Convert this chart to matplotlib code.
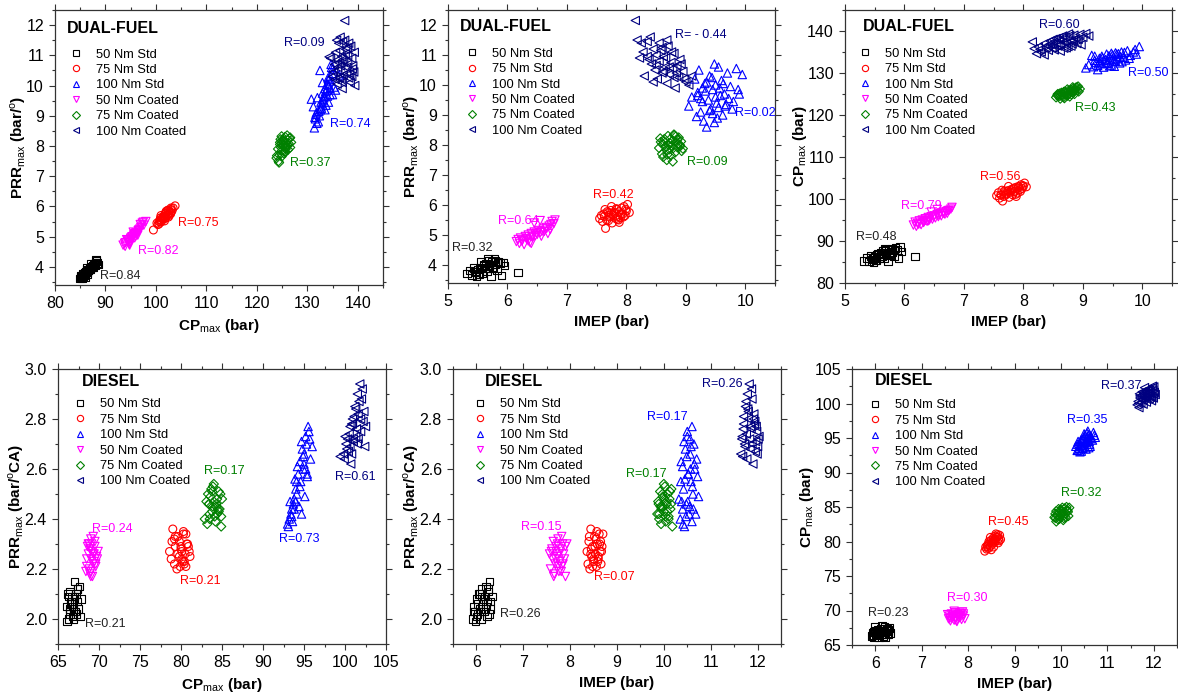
import matplotlib
matplotlib.use('Agg')
import matplotlib.pyplot as plt
from matplotlib.lines import Line2D
from matplotlib.ticker import MultipleLocator, FormatStrFormatter

plt.rcParams['font.family'] = ['Liberation Sans', 'DejaVu Sans']
plt.rcParams['mathtext.fontset'] = 'custom'
plt.rcParams['mathtext.rm'] = 'Liberation Sans'
plt.rcParams['mathtext.bf'] = 'Liberation Sans:bold'

labels = ['50 Nm Std', '75 Nm Std', '100 Nm Std', '50 Nm Coated', '75 Nm Coated', '100 Nm Coated']
colors = ['#000000', '#ff0000', '#0000ff', '#ff00ff', '#008000', '#000080']
markers = ['s', 'o', '^', 'v', 'D', '<']
msizes = [30, 32, 36, 36, 22, 36]

# ---------------- DUAL-FUEL data (IMEP bar, CPmax bar, PRRmax bar/deg) ----------------
df_50std_imep = [5.32, 5.40, 5.45, 5.48, 5.50, 5.52, 5.55, 5.58, 5.60, 5.62, 5.64, 5.66, 5.68, 5.70, 5.72,
                 5.74, 5.76, 5.78, 5.80, 5.82, 5.85, 5.88, 5.90, 5.93, 5.95, 5.44, 5.56, 5.67, 6.18, 5.36,
                 5.46, 5.53, 5.61, 5.69, 5.75, 5.83, 5.51, 5.79]
df_50std_cp = [85.2, 85.1, 85.6, 85.0, 86.2, 85.4, 86.8, 85.8, 87.2, 86.5, 87.6, 86.0, 88.0, 87.0, 85.3,
               87.8, 86.6, 88.2, 87.4, 86.3, 88.4, 87.9, 86.0, 88.5, 87.5, 86.4, 87.0, 88.1, 86.3, 86.0,
               85.9, 86.6, 86.3, 87.3, 86.9, 87.7, 85.5, 88.0]
df_50std_prr = [3.72, 3.66, 3.78, 3.62, 3.85, 3.70, 3.92, 3.74, 4.00, 3.88, 4.05, 3.80, 4.15, 3.95, 3.64,
                4.10, 3.90, 4.20, 4.02, 3.84, 4.12, 4.06, 3.65, 4.08, 3.98, 3.90, 4.10, 4.22, 3.75, 3.82,
                3.76, 3.88, 3.96, 4.00, 3.93, 4.08, 3.68, 4.14]

df_75std_imep = [7.55, 7.58, 7.60, 7.62, 7.65, 7.67, 7.70, 7.72, 7.74, 7.76, 7.78, 7.80, 7.82, 7.84, 7.86,
                 7.88, 7.90, 7.92, 7.94, 7.96, 7.98, 8.00, 8.02, 8.05, 7.70, 7.85, 7.64, 7.95, 7.75, 7.88,
                 7.63, 7.71, 7.79, 7.83, 7.91, 7.99, 7.68, 7.87]
df_75std_cp = [100.8, 101.5, 100.2, 101.0, 99.5, 100.6, 101.8, 101.2, 102.0, 100.4, 101.6, 102.3, 101.0, 102.6, 101.9,
               102.8, 101.4, 103.0, 102.2, 103.4, 102.5, 103.0, 103.8, 102.9, 100.9, 101.7, 102.1, 101.8, 103.0, 100.6,
               100.9, 101.4, 102.0, 102.4, 102.6, 103.2, 101.9, 101.1]
df_75std_prr = [5.55, 5.65, 5.45, 5.70, 5.22, 5.50, 5.75, 5.60, 5.82, 5.40, 5.68, 5.72, 5.55, 5.85, 5.62,
                5.78, 5.58, 5.90, 5.70, 5.95, 5.65, 5.80, 6.02, 5.75, 5.48, 5.52, 5.85, 5.60, 5.95, 5.42,
                5.62, 5.66, 5.76, 5.88, 5.70, 5.86, 5.78, 5.50]

df_100std_imep = [9.05, 9.10, 9.15, 9.18, 9.20, 9.22, 9.25, 9.28, 9.30, 9.32, 9.35, 9.38, 9.40, 9.42, 9.45, 9.48, 9.50,
                  9.52, 9.55, 9.58, 9.60, 9.62, 9.65, 9.68, 9.70, 9.72, 9.75, 9.80, 9.85, 9.90, 9.95, 9.35, 9.45, 9.55,
                  9.28, 9.33, 9.40, 9.44, 9.50, 9.53, 9.57, 9.63, 9.66, 9.48, 9.20, 9.78, 9.88, 9.25]
df_100std_cp = [131.2, 132.0, 134.2, 131.5, 133.0, 132.5, 131.8, 133.5, 132.2, 134.0, 131.4, 133.2, 134.5, 132.6, 133.8, 131.9, 134.3,
                132.9, 134.8, 133.4, 134.6, 132.4, 135.0, 133.7, 134.9, 133.1, 135.3, 134.2, 135.0, 134.5, 136.3, 133.0, 131.7, 132.8,
                132.7, 133.6, 132.3, 134.1, 133.3, 131.6, 134.5, 133.9, 132.7, 134.7, 134.0, 133.5, 135.6, 130.8]
df_100std_prr = [9.30, 9.60, 10.20, 8.95, 9.75, 10.50, 9.10, 9.90, 8.80, 10.05, 8.60, 9.50, 10.30, 9.20, 9.85, 8.75, 10.00,
                 9.40, 10.60, 9.65, 10.15, 9.00, 9.70, 9.35, 10.40, 9.55, 9.95, 9.45, 10.55, 9.70, 10.35, 10.10, 9.05, 9.25,
                 9.45, 9.80, 9.15, 10.25, 9.60, 8.90, 9.90, 10.05, 9.30, 10.70, 9.65, 9.20, 9.85, 9.55]

df_50coat_imep = [6.15, 6.18, 6.20, 6.22, 6.25, 6.28, 6.30, 6.32, 6.35, 6.38, 6.40, 6.42, 6.45, 6.47, 6.50,
                  6.52, 6.55, 6.57, 6.60, 6.62, 6.65, 6.68, 6.70, 6.72, 6.75, 6.78, 6.80, 6.45, 6.55, 6.35,
                  6.24, 6.33, 6.41, 6.49, 6.58, 6.66, 6.40, 6.73]
df_50coat_cp = [93.8, 94.5, 93.5, 94.2, 94.8, 93.9, 95.0, 94.4, 95.3, 94.7, 95.6, 95.0, 95.8, 95.2, 96.0,
                95.5, 96.3, 95.8, 96.5, 96.0, 96.8, 96.4, 97.0, 96.6, 97.3, 97.6, 98.0, 96.9, 97.5, 94.9,
                94.0, 94.6, 95.4, 95.7, 96.2, 96.6, 94.8, 97.2]
df_50coat_prr = [4.78, 4.85, 4.72, 4.90, 4.82, 4.68, 4.95, 4.88, 5.00, 4.75, 5.05, 4.92, 5.10, 4.98, 5.02,
                 5.15, 5.08, 4.96, 5.20, 5.12, 5.25, 5.05, 5.30, 5.18, 5.45, 5.38, 5.50, 5.40, 5.48, 4.80,
                 4.80, 4.85, 4.95, 5.06, 5.12, 5.22, 4.72, 5.35]

df_75coat_imep = [8.55, 8.58, 8.60, 8.62, 8.64, 8.66, 8.68, 8.70, 8.72, 8.74, 8.76, 8.78, 8.80, 8.82,
                  8.84, 8.86, 8.88, 8.90, 8.92, 8.95, 8.68, 8.75, 8.83, 8.61, 8.78, 8.86, 8.57, 8.93,
                  8.63, 8.71, 8.79, 8.87, 8.74, 8.69, 8.81, 8.90]
df_75coat_cp = [124.2, 125.0, 124.5, 123.9, 125.3, 124.8, 124.3, 125.6, 125.0, 124.6, 125.8, 125.2, 126.0, 125.4,
                126.3, 125.7, 126.5, 125.9, 126.8, 126.2, 125.5, 124.9, 126.6, 125.1, 124.4, 125.0, 124.7, 125.6,
                124.6, 125.3, 125.7, 126.0, 126.1, 124.0, 124.9, 126.6]
df_75coat_prr = [7.90, 8.10, 7.70, 7.60, 8.20, 7.95, 7.50, 8.30, 7.85, 8.05, 7.98, 8.15, 8.35, 7.75,
                 8.08, 7.92, 8.25, 8.00, 8.12, 7.88, 7.82, 7.65, 8.28, 8.02, 7.45, 8.18, 8.22, 7.80,
                 8.12, 8.00, 7.90, 8.05, 8.20, 7.68, 8.32, 7.95]

df_100coat_imep = [8.15, 8.18, 8.22, 8.25, 8.30, 8.35, 8.40, 8.42, 8.45, 8.48, 8.50, 8.52, 8.55, 8.58, 8.60, 8.62, 8.65,
                   8.68, 8.70, 8.72, 8.75, 8.78, 8.80, 8.82, 8.85, 8.88, 8.90, 8.95, 9.00, 9.05, 9.10, 8.60, 8.45,
                   8.28, 8.38, 8.50, 8.55, 8.62, 8.66, 8.72, 8.76, 8.80, 8.84, 8.92, 8.97, 8.35, 8.68]
df_100coat_cp = [137.4, 135.8, 134.6, 136.2, 135.0, 137.0, 136.5, 135.4, 137.6, 136.0, 138.0, 135.5, 137.2, 136.4, 138.4, 136.8, 137.8,
                 135.9, 138.6, 137.1, 136.3, 138.9, 137.5, 136.9, 139.0, 138.2, 137.0, 139.2, 138.5, 139.4, 138.8, 137.9, 136.9,
                 135.6, 136.0, 136.6, 138.2, 135.2, 138.8, 136.0, 139.3, 136.4, 137.8, 138.0, 136.7, 134.3, 137.4]
df_100coat_prr = [12.15, 11.50, 10.90, 11.40, 10.30, 11.45, 11.60, 10.70, 11.20, 10.50, 11.00, 10.20, 10.80, 11.15, 10.40, 10.95, 10.60,
                  10.05, 11.30, 10.35, 10.75, 10.55, 11.05, 9.90, 10.65, 10.25, 10.85, 10.45, 10.10, 10.00, 10.30, 11.25, 10.10,
                  11.10, 10.85, 10.65, 11.40, 10.45, 10.90, 10.60, 11.10, 10.25, 10.40, 10.70, 10.20, 10.95, 11.50]

# ---------------- DIESEL data (IMEP bar, CPmax bar, PRRmax bar/degCA) ----------------
ds_50std_imep = [5.92, 5.95, 5.98, 6.00, 6.02, 6.05, 6.07, 6.10, 6.12, 6.14, 6.16, 6.18, 6.20,
                 6.22, 6.24, 6.26, 6.28, 6.30, 6.33, 6.00, 6.08, 6.15, 5.97, 6.21, 6.27,
                 6.03, 6.11, 6.19, 6.25, 5.94, 6.29]
ds_50std_cp = [66.3, 66.8, 66.1, 67.0, 66.5, 67.2, 66.4, 66.9, 67.4, 66.6, 67.1, 66.3, 67.6,
               66.8, 67.3, 66.5, 67.0, 67.5, 66.7, 67.7, 66.2, 67.8, 66.9, 66.1, 67.2,
               66.7, 67.0, 66.9, 67.4, 66.4, 66.6]
ds_50std_prr = [2.00, 2.05, 1.99, 2.08, 2.02, 2.10, 2.04, 2.00, 2.12, 2.06, 2.03, 2.09, 2.13,
                2.01, 2.07, 2.11, 2.15, 2.04, 2.09, 2.01, 2.10, 2.08, 2.03, 2.05, 2.02,
                2.06, 2.09, 2.04, 2.12, 2.03, 2.07]

ds_75std_imep = [8.36, 8.38, 8.40, 8.42, 8.44, 8.46, 8.48, 8.50, 8.52, 8.54, 8.56, 8.58, 8.60,
                 8.62, 8.64, 8.66, 8.68, 8.70, 8.45, 8.55, 8.60, 8.50, 8.65, 8.48, 8.57,
                 8.44, 8.53, 8.59, 8.63, 8.41, 8.67]
ds_75std_cp = [78.6, 79.2, 78.9, 79.5, 79.0, 79.8, 79.3, 80.2, 79.6, 80.5, 79.9, 80.8, 80.1,
               80.6, 81.0, 80.4, 80.9, 80.3, 80.0, 79.2, 81.1, 78.8, 79.8, 80.6, 80.3,
               79.6, 80.0, 80.4, 80.7, 79.3, 80.1]
ds_75std_prr = [2.27, 2.22, 2.31, 2.20, 2.36, 2.25, 2.29, 2.23, 2.33, 2.26, 2.21, 2.30, 2.24,
                2.34, 2.27, 2.22, 2.29, 2.34, 2.28, 2.32, 2.25, 2.24, 2.31, 2.21, 2.35,
                2.26, 2.29, 2.23, 2.30, 2.33, 2.27]

ds_100std_imep = [10.32, 10.35, 10.37, 10.40, 10.42, 10.44, 10.46, 10.48, 10.50, 10.52, 10.54, 10.56, 10.58, 10.60,
                  10.62, 10.64, 10.66, 10.70, 10.74, 10.45, 10.55, 10.50, 10.40, 10.60, 10.68, 10.38, 10.52, 10.58,
                  10.36, 10.43, 10.47, 10.51, 10.56, 10.61, 10.65, 10.72, 10.49, 10.63, 10.41, 10.57]
ds_100std_cp = [93.8, 93.2, 94.5, 93.5, 94.0, 93.1, 94.8, 93.7, 95.2, 94.3, 93.4, 95.0, 94.6, 95.5,
                94.1, 95.3, 94.9, 95.8, 95.1, 93.9, 94.4, 95.6, 94.2, 93.6, 94.7, 93.3, 95.4, 96.0,
                94.1, 94.7, 93.5, 94.0, 95.7, 94.5, 95.0, 95.4, 94.9, 93.8, 93.0, 95.2]
ds_100std_prr = [2.48, 2.40, 2.63, 2.44, 2.52, 2.37, 2.68, 2.46, 2.73, 2.58, 2.42, 2.66, 2.55, 2.77,
                 2.50, 2.70, 2.60, 2.64, 2.49, 2.56, 2.45, 2.75, 2.61, 2.39, 2.42, 2.47, 2.58, 2.69,
                 2.55, 2.71, 2.41, 2.47, 2.72, 2.53, 2.62, 2.57, 2.65, 2.44, 2.38, 2.60]

ds_50coat_imep = [7.58, 7.60, 7.62, 7.64, 7.66, 7.68, 7.70, 7.72, 7.74, 7.76, 7.78, 7.80,
                  7.82, 7.84, 7.86, 7.88, 7.90, 7.93, 7.56, 7.70, 7.75, 7.82, 7.65, 7.90,
                  7.61, 7.69, 7.77, 7.85, 7.73, 7.81]
ds_50coat_cp = [68.8, 69.2, 68.5, 69.5, 68.9, 69.3, 68.6, 69.7, 69.0, 68.4, 69.4, 68.9,
                69.6, 69.1, 68.7, 69.8, 69.2, 68.8, 69.4, 69.9, 68.5, 69.3, 69.0, 69.5,
                68.9, 69.1, 69.3, 69.6, 68.7, 69.0]
ds_50coat_prr = [2.20, 2.27, 2.24, 2.31, 2.18, 2.22, 2.29, 2.25, 2.32, 2.19, 2.23, 2.28,
                 2.21, 2.30, 2.26, 2.24, 2.17, 2.30, 2.26, 2.27, 2.21, 2.33, 2.17, 2.29,
                 2.28, 2.24, 2.26, 2.22, 2.30, 2.19]

ds_75coat_imep = [9.86, 9.88, 9.90, 9.92, 9.94, 9.96, 9.98, 10.00, 10.02, 10.04, 10.06, 10.08,
                  10.10, 10.12, 10.14, 10.16, 10.18, 9.95, 10.05, 9.90, 10.10, 10.00, 9.97, 10.15,
                  9.93, 10.01, 10.07, 10.13, 9.89, 10.03]
ds_75coat_cp = [83.5, 84.0, 82.9, 83.8, 83.2, 84.3, 83.6, 84.6, 83.9, 84.2, 83.4, 84.8,
                84.1, 85.0, 84.5, 83.7, 84.9, 84.7, 83.1, 84.4, 83.5, 84.0, 83.3, 84.3,
                83.9, 84.4, 83.8, 84.6, 83.4, 84.9]
ds_75coat_prr = [2.42, 2.47, 2.40, 2.51, 2.38, 2.45, 2.49, 2.43, 2.53, 2.39, 2.46, 2.50,
                 2.41, 2.48, 2.44, 2.52, 2.37, 2.44, 2.47, 2.42, 2.40, 2.54, 2.50, 2.46,
                 2.45, 2.48, 2.43, 2.51, 2.46, 2.41]

ds_100coat_imep = [11.64, 11.66, 11.68, 11.70, 11.72, 11.74, 11.76, 11.78, 11.80, 11.82, 11.84, 11.86, 11.88,
                   11.90, 11.92, 11.94, 11.96, 11.98, 12.00, 12.03, 11.75, 11.85, 11.80, 11.95, 11.70, 11.88,
                   11.67, 11.73, 11.79, 11.83, 11.87, 11.91, 11.97, 12.01, 11.77, 11.93, 11.69, 11.99]
ds_100coat_cp = [99.8, 100.3, 99.4, 100.8, 100.1, 101.2, 100.5, 101.5, 100.9, 101.8, 100.2, 101.4, 102.0,
                 100.7, 101.6, 102.2, 101.0, 101.9, 102.4, 101.3, 101.7, 100.6, 102.3, 100.4, 101.1, 101.5,
                 100.0, 100.6, 101.3, 101.0, 102.1, 101.9, 102.5, 101.6, 99.9, 100.9, 101.4, 100.8]
ds_100coat_prr = [2.66, 2.72, 2.65, 2.78, 2.70, 2.85, 2.74, 2.90, 2.80, 2.94, 2.68, 2.76, 2.88,
                  2.62, 2.82, 2.79, 2.71, 2.75, 2.69, 2.73, 2.87, 2.77, 2.83, 2.67, 2.81, 2.70,
                  2.73, 2.69, 2.84, 2.72, 2.92, 2.80, 2.77, 2.72, 2.64, 2.78, 2.76, 2.66]

# Group in legend order
df_imep = [df_50std_imep, df_75std_imep, df_100std_imep, df_50coat_imep, df_75coat_imep, df_100coat_imep]
df_cp = [df_50std_cp, df_75std_cp, df_100std_cp, df_50coat_cp, df_75coat_cp, df_100coat_cp]
df_prr = [df_50std_prr, df_75std_prr, df_100std_prr, df_50coat_prr, df_75coat_prr, df_100coat_prr]
ds_imep = [ds_50std_imep, ds_75std_imep, ds_100std_imep, ds_50coat_imep, ds_75coat_imep, ds_100coat_imep]
ds_cp = [ds_50std_cp, ds_75std_cp, ds_100std_cp, ds_50coat_cp, ds_75coat_cp, ds_100coat_cp]
ds_prr = [ds_50std_prr, ds_75std_prr, ds_100std_prr, ds_50coat_prr, ds_75coat_prr, ds_100coat_prr]

# Correlation coefficients shown on each panel (legend order)
r_df_cp_prr = ['R=0.84', 'R=0.75', 'R=0.74', 'R=0.82', 'R=0.37', 'R=0.09']
r_df_imep_prr = ['R=0.32', 'R=0.42', 'R=0.02', 'R=0.64', 'R=0.09', 'R= - 0.44']
r_df_imep_cp = ['R=0.48', 'R=0.56', 'R=0.50', 'R=0.79', 'R=0.43', 'R=0.60']
r_ds_cp_prr = ['R=0.21', 'R=0.21', 'R=0.73', 'R=0.24', 'R=0.17', 'R=0.61']
r_ds_imep_prr = ['R=0.26', 'R=0.07', 'R=0.17', 'R=0.15', 'R=0.17', 'R=0.26']
r_ds_imep_cp = ['R=0.23', 'R=0.45', 'R=0.35', 'R=0.30', 'R=0.32', 'R=0.37']

W, H = 1178, 698
fig = plt.figure(figsize=(W / 100, H / 100), dpi=100)


def make_axes(l, t, r, b):
    return fig.add_axes([l / W, 1 - b / H, (r - l) / W, (b - t) / H])


def panel(ax, xs, ys, rtxt, rpos, title, tpos, lpos, xlim, ylim, xmaj, ymaj, xlabel, ylabel, yfmt):
    for i in range(6):
        ax.scatter(xs[i], ys[i], s=msizes[i], marker=markers[i], facecolors='none',
                   edgecolors=colors[i], linewidths=0.8, zorder=3)
        ax.text(rpos[i][0], rpos[i][1], rtxt[i], color=colors[i] if i else '#222222',
                fontsize=9, ha='left', va='center')
    ax.set_xlim(xlim)
    ax.set_ylim(ylim)
    ax.xaxis.set_major_locator(MultipleLocator(xmaj))
    ax.xaxis.set_minor_locator(MultipleLocator(xmaj / 2))
    ax.yaxis.set_major_locator(MultipleLocator(ymaj))
    ax.yaxis.set_minor_locator(MultipleLocator(ymaj / 2))
    ax.yaxis.set_major_formatter(FormatStrFormatter(yfmt))
    ax.tick_params(which='both', direction='out', top=True, right=True, labelsize=11.5, width=0.8, color='#333333')
    ax.tick_params(which='major', length=4.5)
    ax.tick_params(which='minor', length=2.5)
    for sp in ax.spines.values():
        sp.set_linewidth(0.9)
        sp.set_color('#333333')
    ax.set_xlabel(xlabel, fontsize=11, fontweight='bold', labelpad=4)
    ax.set_ylabel(ylabel, fontsize=11, fontweight='bold', labelpad=-1)
    ax.text(tpos[0], tpos[1], title, transform=ax.transAxes, fontsize=11.5, fontweight='bold',
            ha='left', va='center')
    handles = [Line2D([], [], linestyle='none', marker=markers[i], markersize=4.5, fillstyle='none',
                      markeredgecolor=colors[i], markeredgewidth=0.8) for i in range(6)]
    ax.legend(handles, labels, loc='upper left', bbox_to_anchor=lpos, frameon=False,
              fontsize=9.3, labelspacing=0.26, handlelength=1.0, handletextpad=1.05,
              borderpad=0, borderaxespad=0)


prr_df_label = 'PRR$_{\\rm max}$ (bar/$^{\\rm o}$)'
prr_ds_label = 'PRR$_{\\rm max}$ (bar/$^{\\rm o}$CA)'
cp_label = 'CP$_{\\rm max}$ (bar)'
imep_label = 'IMEP (bar)'

ax1 = make_axes(55, 10, 383, 285)
panel(ax1, df_cp, df_prr, r_df_cp_prr,
      [(89, 3.7), (104.4, 5.45), (134.5, 8.73), (96.4, 4.53), (126.6, 7.44), (125.4, 11.4)],
      'DUAL-FUEL', (0.037, 0.931), (0.044, 0.86),
      (80, 145), (3.4, 12.5), 10, 1, cp_label, prr_df_label, '%d')

ax2 = make_axes(448, 10, 775, 283)
panel(ax2, df_imep, df_prr, r_df_imep_prr,
      [(5.06, 4.57), (7.44, 6.33), (9.83, 9.07), (5.84, 5.47), (9.02, 7.43), (8.82, 11.67)],
      'DUAL-FUEL', (0.037, 0.938), (0.053, 0.862),
      (5, 10.5), (3.4, 12.5), 1, 1, imep_label, prr_df_label, '%d')

ax3 = make_axes(845, 10, 1172, 283)
panel(ax3, df_imep, df_cp, r_df_imep_cp,
      [(5.19, 91.0), (7.27, 105.2), (9.76, 130.0), (5.94, 98.3), (8.87, 121.7), (8.26, 141.4)],
      'DUAL-FUEL', (0.055, 0.938), (0.041, 0.862),
      (5, 10.5), (80, 145), 1, 10, imep_label, cp_label, '%d')

ax4 = make_axes(58, 369, 386, 644)
panel(ax4, ds_cp, ds_prr, r_ds_cp_prr,
      [(68.3, 1.98), (79.9, 2.15), (92.0, 2.32), (69.2, 2.36), (82.8, 2.59), (98.8, 2.57)],
      'DIESEL', (0.073, 0.956), (0.047, 0.893),
      (65, 105), (1.9, 3.0), 5, 0.2, cp_label, prr_ds_label, '%.1f')

ax5 = make_axes(453, 369, 781, 644)
panel(ax5, ds_imep, ds_prr, r_ds_imep_prr,
      [(6.5, 2.02), (8.5, 2.17), (9.64, 2.81), (6.95, 2.37), (9.19, 2.58), (10.81, 2.94)],
      'DIESEL', (0.098, 0.956), (0.062, 0.893),
      (5.5, 12.5), (1.9, 3.0), 1, 0.2, imep_label, prr_ds_label, '%.1f')

ax6 = make_axes(852, 369, 1177, 645)
panel(ax6, ds_imep, ds_cp, r_ds_imep_cp,
      [(5.84, 69.6), (8.43, 82.8), (10.13, 97.6), (7.55, 71.8), (10.0, 87.0), (10.86, 102.5)],
      'DIESEL', (0.071, 0.957), (0.05, 0.89),
      (5.5, 12.5), (65, 105), 1, 5, imep_label, cp_label, '%d')

fig.savefig('out.png', dpi=100)
